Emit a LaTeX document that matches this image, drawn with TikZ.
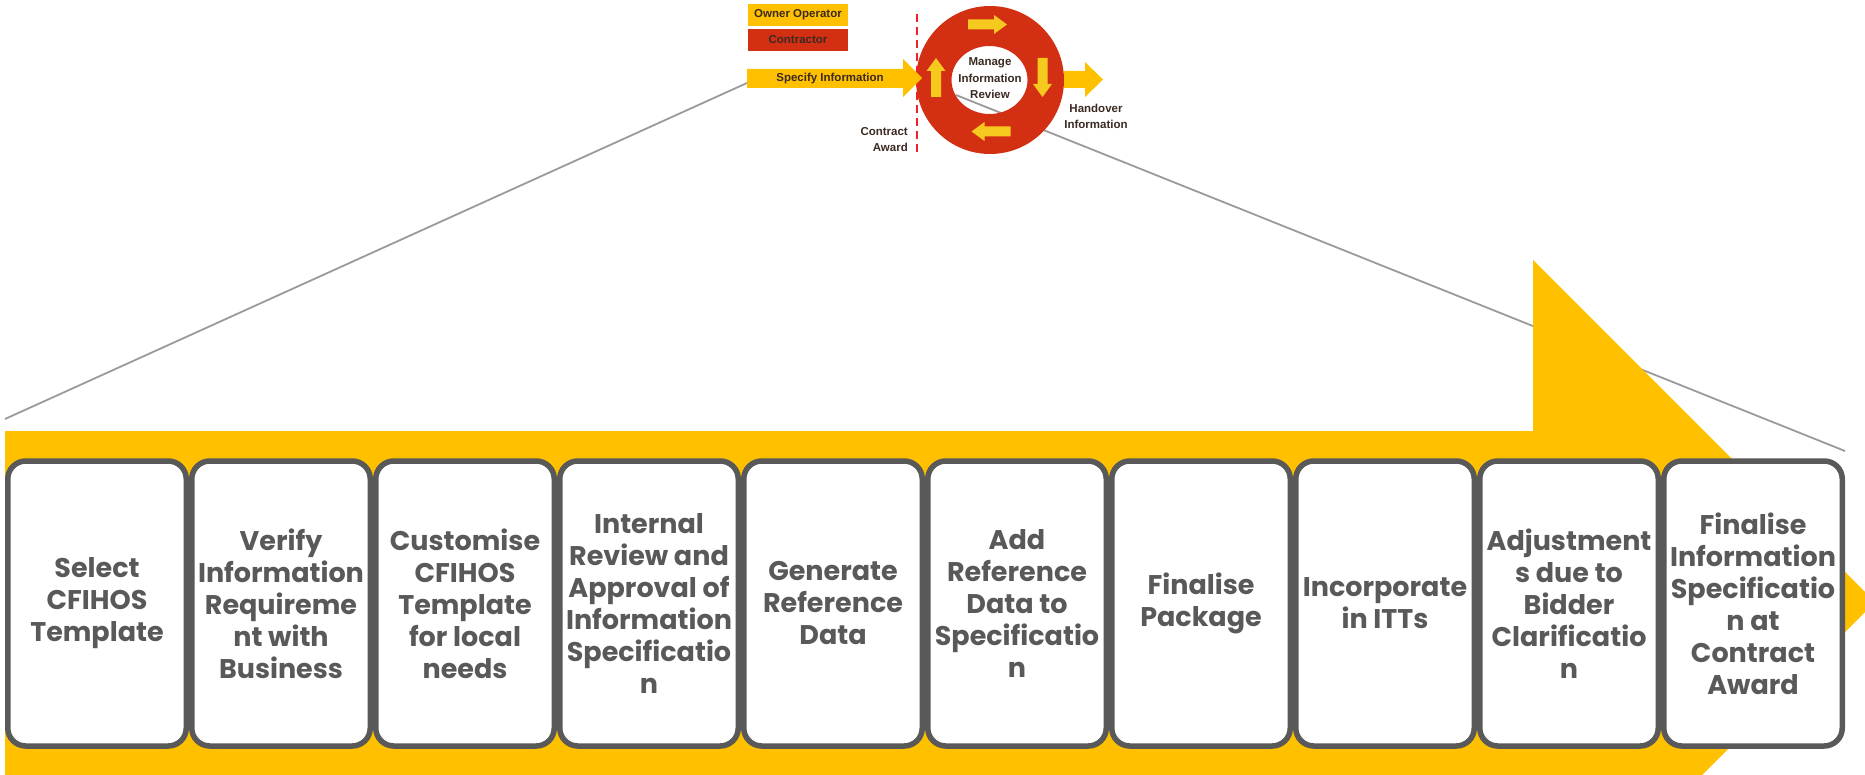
\documentclass[tikz,border=0pt]{standalone}
\usepackage{fontspec}
\setmainfont{Liberation Sans}
\newfontfamily\boxfont{Poppins}
\definecolor{oyellow}{HTML}{FFC000}
\definecolor{cred}{HTML}{D32F13}
\definecolor{lemon}{HTML}{F6C91F}
\definecolor{boxgray}{HTML}{595959}
\definecolor{linegray}{HTML}{9A9A9A}
\definecolor{darktext}{HTML}{3B2A22}
\definecolor{dashred}{HTML}{F0202A}
\newcommand\ringarrow[3]{%
  \fill[lemon, shift={(#1,#2)}, rotate=#3] (-19.5,-5) -- (6.5,-5) -- (6.5,-9.5) -- (19.5,0) -- (6.5,9.5) -- (6.5,5) -- (-19.5,5) -- cycle;}
\begin{document}
\begin{tikzpicture}[x=1pt,y=-1pt,
  stepbox/.style={draw=boxgray, line width=5.5pt, fill=white, rounded corners=18pt,
    minimum width=178.5pt, minimum height=285pt, inner sep=0pt,
    text=boxgray, font=\boxfont\bfseries\fontsize{27}{32}\selectfont, align=center},
  toptext/.style={text=darktext, font=\bfseries\fontsize{11.5}{16.5}\selectfont, align=center, inner sep=0pt},
  zoomline/.style={draw=linegray, line width=1.8pt},
]
\useasboundingbox (0,0) rectangle (1865,775);
% zoom lines
\coordinate (specL) at (747,83);
\coordinate (bandL) at (5,419);
\coordinate (ringC) at (956,95);
\coordinate (bandR) at (1845,451);
\draw[zoomline] (specL) -- (bandL);
\draw[zoomline] (ringC) -- (bandR);
% big arrow
\fill[oyellow] (5,431) -- (1533,431) -- (1533,260) -- (1875,602) -- (1533,944) -- (1533,790) -- (5,790) -- cycle;
% steps
\node[stepbox] (s1) at (97,603.5) {Select\\CFIHOS\\Template};
\node[stepbox] (s2) at (281,603.5) {Verify\\Information\\Requireme\\nt with\\Business};
\node[stepbox] (s3) at (465,603.5) {Customise\\CFIHOS\\Template\\for local\\needs};
\node[stepbox] (s4) at (649,603.5) {Internal\\Review and\\Approval of\\Information\\Specificatio\\n};
\node[stepbox] (s5) at (833,603.5) {Generate\\Reference\\Data};
\node[stepbox] (s6) at (1017,603.5) {Add\\Reference\\Data to\\Specificatio\\n};
\node[stepbox] (s7) at (1201,603.5) {Finalise\\Package};
\node[stepbox] (s8) at (1385,603.5) {Incorporate\\in ITTs};
\node[stepbox] (s9) at (1569,603.5) {Adjustment\\s due to\\Bidder\\Clarificatio\\n};
\node[stepbox] (s10) at (1753,603.5) {Finalise\\Information\\Specificatio\\n at\\Contract\\Award};
% ring
\fill[cred, even odd rule] (990,80) circle[radius=74] (989.5,80) ellipse[x radius=38, y radius=34];
\ringarrow{987.5}{24.5}{0}
\ringarrow{1042.5}{77.5}{-90}
\ringarrow{991}{131.5}{180}
\ringarrow{936}{77.5}{90}
\node[toptext] (manage) at (990,78.5) {Manage\\Information\\Review};
% contract award dashed line
\coordinate (dashT) at (917,14);
\coordinate (dashB) at (917,156);
\draw[dashred, line width=2.5pt, dash pattern=on 8pt off 5pt] (dashT) -- (dashB);
\node[toptext, anchor=east, align=right, font=\bfseries\fontsize{11.5}{15.6}\selectfont] (award) at (908,139.5) {Contract\\Award};
% specify arrow
\fill[oyellow] (747,69) -- (903,69) -- (903,59) -- (922,78) -- (903,97) -- (903,88) -- (747,88) -- cycle;
\node[toptext] (specify) at (830,78.5) {Specify Information};
% handover arrow
\fill[oyellow] (1064,71) -- (1085,71) -- (1085,62) -- (1103,79.5) -- (1085,97) -- (1085,88) -- (1064,88) -- cycle;
\node[toptext, font=\bfseries\fontsize{11.5}{16}\selectfont] (handover) at (1096,116.5) {Handover\\Information};
% legend
\node[fill=oyellow, minimum width=100pt, minimum height=22pt, toptext] (owner) at (798,15) {Owner Operator};
\node[fill=cred, minimum width=100pt, minimum height=22pt, toptext] (contractor) at (798,40) {Contractor};
\end{tikzpicture}
\end{document}
